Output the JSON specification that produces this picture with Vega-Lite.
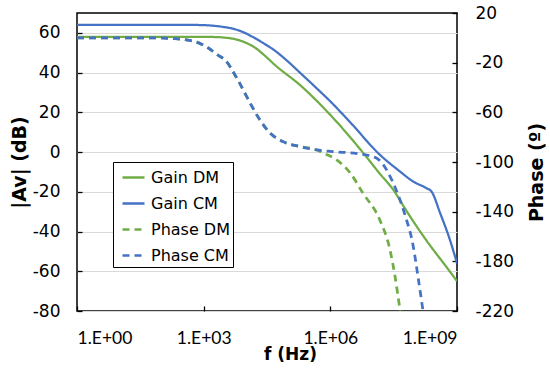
{
  "$schema": "https://vega.github.io/schema/vega-lite/v6.json",
  "width": 380,
  "height": 298,
  "autosize": {"type": "none"},
  "padding": {"left": 77, "top": 13, "right": 93, "bottom": 63},
  "background": "white",
  "config": {
    "view": {"stroke": "#000000", "strokeWidth": 1.5},
    "axis": {
      "domain": false,
      "tickColor": "#000000",
      "tickSize": -5,
      "tickWidth": 1.3,
      "labelColor": "#000000",
      "titleColor": "#000000",
      "labelFont": "DejaVu Sans",
      "labelFontSize": 17,
      "titleFont": "DejaVu Sans",
      "titleFontWeight": "bold",
      "titleFontSize": 19
    },
    "legend": {
      "orient": "none",
      "legendX": 36,
      "legendY": 149,
      "fillColor": "white",
      "strokeColor": "#000000",
      "strokeWidth": 1,
      "padding": 3,
      "labelFont": "DejaVu Sans",
      "labelFontSize": 16,
      "labelColor": "#000000",
      "symbolType": "stroke",
      "symbolSize": 484,
      "symbolStrokeWidth": 2.5,
      "symbolOffset": 5,
      "rowPadding": 5,
      "labelOffset": 5,
      "title": null
    }
  },
  "datasets": {
    "gain": [
      {"f": 1, "v": 64, "series": "Gain CM"},
      {"f": 500, "v": 64, "series": "Gain CM"},
      {"f": 1260, "v": 63.8, "series": "Gain CM"},
      {"f": 2450, "v": 63.2, "series": "Gain CM"},
      {"f": 4680, "v": 62.2, "series": "Gain CM"},
      {"f": 8130, "v": 60.6, "series": "Gain CM"},
      {"f": 13800, "v": 58.2, "series": "Gain CM"},
      {"f": 25100, "v": 55, "series": "Gain CM"},
      {"f": 49000, "v": 51, "series": "Gain CM"},
      {"f": 100000, "v": 45.5, "series": "Gain CM"},
      {"f": 190000, "v": 40, "series": "Gain CM"},
      {"f": 480000, "v": 32, "series": "Gain CM"},
      {"f": 1000000, "v": 25.5, "series": "Gain CM"},
      {"f": 2950000, "v": 15, "series": "Gain CM"},
      {"f": 15000000, "v": -1.4, "series": "Gain CM"},
      {"f": 44700000, "v": -9.8, "series": "Gain CM"},
      {"f": 93000000, "v": -14.9, "series": "Gain CM"},
      {"f": 190000000, "v": -18.2, "series": "Gain CM"},
      {"f": 250000000, "v": -19.9, "series": "Gain CM"},
      {"f": 400000000, "v": -30.8, "series": "Gain CM"},
      {"f": 680000000, "v": -44.2, "series": "Gain CM"},
      {"f": 1000000000, "v": -56, "series": "Gain CM"},
      {"f": 1, "v": 58, "series": "Gain DM"},
      {"f": 800, "v": 58, "series": "Gain DM"},
      {"f": 1900, "v": 57.9, "series": "Gain DM"},
      {"f": 3162, "v": 57.6, "series": "Gain DM"},
      {"f": 5623, "v": 56.8, "series": "Gain DM"},
      {"f": 10000, "v": 55, "series": "Gain DM"},
      {"f": 16600, "v": 52.5, "series": "Gain DM"},
      {"f": 28200, "v": 48.5, "series": "Gain DM"},
      {"f": 49000, "v": 43.8, "series": "Gain DM"},
      {"f": 190000, "v": 33.8, "series": "Gain DM"},
      {"f": 1000000, "v": 18.7, "series": "Gain DM"},
      {"f": 6600000, "v": -1.5, "series": "Gain DM"},
      {"f": 15000000, "v": -11, "series": "Gain DM"},
      {"f": 31000000, "v": -19, "series": "Gain DM"},
      {"f": 59000000, "v": -28.5, "series": "Gain DM"},
      {"f": 93000000, "v": -35, "series": "Gain DM"},
      {"f": 230000000, "v": -47, "series": "Gain DM"},
      {"f": 570000000, "v": -58, "series": "Gain DM"},
      {"f": 1000000000, "v": -65, "series": "Gain DM"}
    ],
    "phase": [
      {"f": 1, "p": 0, "series": "Phase DM"},
      {"f": 54, "p": 0, "series": "Phase DM"},
      {"f": 209, "p": -0.7, "series": "Phase DM"},
      {"f": 363, "p": -1.5, "series": "Phase DM"},
      {"f": 617, "p": -3, "series": "Phase DM"},
      {"f": 1259, "p": -8, "series": "Phase DM"},
      {"f": 2188, "p": -14, "series": "Phase DM"},
      {"f": 3236, "p": -18, "series": "Phase DM"},
      {"f": 6457, "p": -34, "series": "Phase DM"},
      {"f": 13800, "p": -55, "series": "Phase DM"},
      {"f": 21400, "p": -66, "series": "Phase DM"},
      {"f": 37150, "p": -76.6, "series": "Phase DM"},
      {"f": 75860, "p": -83.6, "series": "Phase DM"},
      {"f": 190500, "p": -87.6, "series": "Phase DM"},
      {"f": 478600, "p": -90.3, "series": "Phase DM"},
      {"f": 670000, "p": -92.7, "series": "Phase DM"},
      {"f": 1410000, "p": -98.3, "series": "Phase DM"},
      {"f": 2950000, "p": -108.8, "series": "Phase DM"},
      {"f": 5900000, "p": -125, "series": "Phase DM"},
      {"f": 15000000, "p": -147, "series": "Phase DM"},
      {"f": 26000000, "p": -171, "series": "Phase DM"},
      {"f": 34000000, "p": -192, "series": "Phase DM"},
      {"f": 45000000, "p": -220, "series": "Phase DM"},
      {"f": 1, "p": 0, "series": "Phase CM"},
      {"f": 54, "p": 0, "series": "Phase CM"},
      {"f": 209, "p": -0.7, "series": "Phase CM"},
      {"f": 363, "p": -1.5, "series": "Phase CM"},
      {"f": 617, "p": -3, "series": "Phase CM"},
      {"f": 1259, "p": -8, "series": "Phase CM"},
      {"f": 2188, "p": -14, "series": "Phase CM"},
      {"f": 3236, "p": -18, "series": "Phase CM"},
      {"f": 6457, "p": -34, "series": "Phase CM"},
      {"f": 13800, "p": -55, "series": "Phase CM"},
      {"f": 21400, "p": -66, "series": "Phase CM"},
      {"f": 37150, "p": -76.6, "series": "Phase CM"},
      {"f": 75860, "p": -83.6, "series": "Phase CM"},
      {"f": 190500, "p": -87.6, "series": "Phase CM"},
      {"f": 478600, "p": -90.3, "series": "Phase CM"},
      {"f": 1150000, "p": -91.6, "series": "Phase CM"},
      {"f": 5000000, "p": -93.5, "series": "Phase CM"},
      {"f": 12600000, "p": -97, "series": "Phase CM"},
      {"f": 17700000, "p": -102, "series": "Phase CM"},
      {"f": 30000000, "p": -116, "series": "Phase CM"},
      {"f": 59000000, "p": -143, "series": "Phase CM"},
      {"f": 91000000, "p": -167, "series": "Phase CM"},
      {"f": 120000000, "p": -193, "series": "Phase CM"},
      {"f": 157000000, "p": -220, "series": "Phase CM"}
    ]
  },
  "encoding": {
    "x": {
      "field": "f",
      "type": "quantitative",
      "scale": {"type": "log", "domain": [1, 1000000000], "nice": false},
      "axis": {
        "values": [1, 1000, 1000000, 1000000000],
        "labelExpr": "'1.E+0' + format(log(datum.value)/log(10), '.0f')",
        "labelFont": "Lato",
        "labelFontSize": 17.5,
        "labelPadding": 23,
        "grid": false,
        "title": "f (Hz)",
        "titleX": 213,
        "titleY": 48,
        "titleBaseline": "alphabetic",
        "titleAlign": "center",
        "titleFontSize": 17
      }
    },
    "color": {
      "field": "series",
      "type": "nominal",
      "scale": {
        "domain": ["Gain DM", "Gain CM", "Phase DM", "Phase CM"],
        "range": ["#70ad47", "#4472c4", "#70ad47", "#4472c4"]
      },
      "legend": {"labelExpr": "datum.label + '  '"}
    },
    "strokeDash": {
      "field": "series",
      "type": "nominal",
      "scale": {
        "domain": ["Gain DM", "Gain CM", "Phase DM", "Phase CM"],
        "range": [[1, 0], [1, 0], [7, 5], [7, 5]]
      },
      "legend": {"labelExpr": "datum.label + '  '"}
    }
  },
  "layer": [
    {
      "data": {"name": "gain"},
      "mark": {"type": "line", "interpolate": "monotone", "strokeWidth": 2.25, "clip": true},
      "encoding": {
        "y": {
          "field": "v",
          "type": "quantitative",
          "scale": {"domain": [-80, 70], "nice": false, "zero": false},
          "axis": {
            "orient": "left",
            "values": [-80, -60, -40, -20, 0, 20, 40, 60],
            "labelExpr": "datum.value < 0 ? '-' + abs(datum.value) : '' + datum.value",
            "grid": true,
            "gridColor": "#d9d9d9",
            "gridWidth": 1,
            "labelPadding": 22,
            "title": "|Av| (dB)",
            "titleAngle": -90,
            "titleX": -58,
            "titleY": 149,
            "titleAlign": "center",
            "titleBaseline": "middle"
          }
        }
      }
    },
    {
      "data": {"name": "phase"},
      "mark": {"type": "line", "interpolate": "monotone", "strokeWidth": 2.75, "clip": true},
      "encoding": {
        "y": {
          "field": "p",
          "type": "quantitative",
          "scale": {"domain": [-220, 20], "nice": false, "zero": false},
          "axis": {
            "orient": "right",
            "values": [-220, -180, -140, -100, -60, -20, 20],
            "labelExpr": "datum.value < 0 ? '-' + abs(datum.value) : '' + datum.value",
            "grid": false,
            "labelPadding": 23,
            "title": "Phase (º)",
            "titleAngle": -90,
            "titleX": 79,
            "titleY": 159,
            "titleAlign": "center",
            "titleBaseline": "middle"
          }
        }
      }
    }
  ],
  "resolve": {"scale": {"y": "independent"}}
}
